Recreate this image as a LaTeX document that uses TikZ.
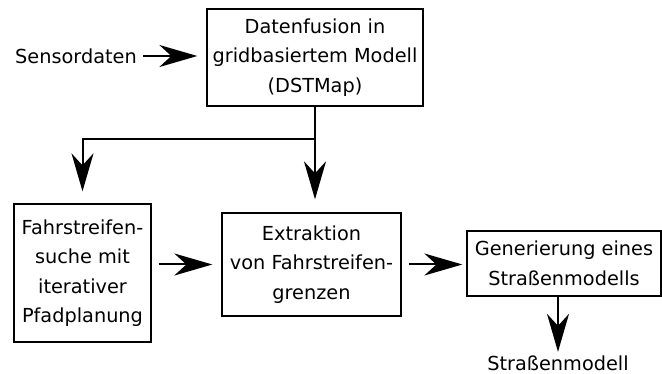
\documentclass[tikz,border=0pt]{standalone}
\usepackage{fontspec}
\setmainfont{DejaVu Sans}
\usetikzlibrary{positioning,arrows.meta}

\begin{document}
\begin{tikzpicture}[
    x=1pt, y=-1pt,
    every node/.style={font=\fontsize{19.3}{29.5}\selectfont},
    process/.style={rectangle, draw, line width=1.3pt, align=center, inner sep=0pt},
    plain/.style={align=center, inner sep=1pt},
    flow/.style={line width=2pt, -{Stealth[length=38pt, width=22pt, inset=12pt]}}
]
\useasboundingbox (0,0) rectangle (662,374);

\node[process, minimum width=216pt, minimum height=97pt] (dsf) at (315,57.5)
    {Datenfusion in\\gridbasiertem Modell\\(DSTMap)};
\node[plain] (sensor) at (76,56) {Sensordaten};
\node[process, minimum width=137pt, minimum height=138pt] (fahr) at (82.5,273)
    {Fahrstreifen-\\suche mit\\iterativer\\Pfadplanung};
\node[process, minimum width=179pt, minimum height=103pt] (extr) at (311.5,264.5)
    {Extraktion\\von Fahrstreifen-\\grenzen};
\node[process, minimum width=194pt, minimum height=65pt] (gen) at (564,263.5)
    {Generierung eines\\Straßenmodells};
\node[plain] (strm) at (558,363.5) {Straßenmodell};

\coordinate[below=32pt of dsf.south] (split);

\draw[flow, shorten <=5pt, shorten >=9pt] (sensor.east) -- (dsf.west |- sensor.east);
\draw[flow, shorten >=13pt] (dsf.south) -- (dsf.south |- extr.north);
\draw[flow, shorten >=12pt] (split) -| (fahr.north);
\draw[flow, shorten <=7pt, shorten >=9pt] (fahr.east |- extr.west) -- (extr.west);
\draw[flow, shorten <=7pt, shorten >=4pt] (extr.east) -- (gen.west |- extr.east);
\draw[flow, shorten >=3pt] (strm |- gen.south) -- (strm.north);
\end{tikzpicture}
\end{document}
